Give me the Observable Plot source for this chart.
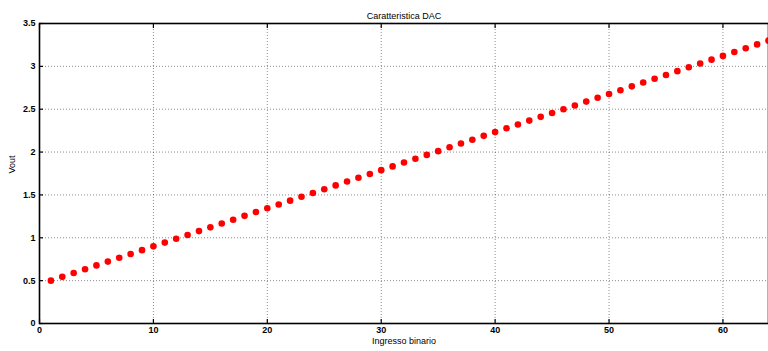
<!DOCTYPE html>
<html><head><meta charset="utf-8">
<script src="https://cdn.jsdelivr.net/npm/d3@7"></script>
<script src="https://cdn.jsdelivr.net/npm/@observablehq/plot@0.6"></script>
<style>body{margin:0;background:#fff;overflow:hidden}</style>
</head><body><div id="chart"></div>
<script>
const title = "Caratteristica DAC";
const xLabel = "Ingresso binario";
const yLabel = "Vout";
const codes = [1,2,3,4,5,6,7,8,9,10,11,12,13,14,15,16,17,18,19,20,21,22,23,24,25,26,27,28,29,30,31,32,33,34,35,36,37,38,39,40,41,42,43,44,45,46,47,48,49,50,51,52,53,54,55,56,57,58,59,60,61,62,63,64];
const vout = [0.500,0.544,0.589,0.633,0.678,0.722,0.767,0.811,0.856,0.900,
  0.944,0.989,1.033,1.078,1.122,1.167,1.211,1.256,1.300,1.344,
  1.389,1.433,1.478,1.522,1.567,1.611,1.656,1.700,1.744,1.789,
  1.833,1.878,1.922,1.967,2.011,2.056,2.100,2.144,2.189,2.233,
  2.278,2.322,2.367,2.411,2.456,2.500,2.544,2.589,2.633,2.678,
  2.722,2.767,2.811,2.856,2.900,2.944,2.989,3.033,3.078,3.122,
  3.167,3.211,3.256,3.300];
const xTicks = [0,10,20,30,40,50,60];
const yTicks = [0,0.5,1,1.5,2,2.5,3,3.5];
const yTickLabels = ["0","0.5","1","1.5","2","2.5","3","3.5"];

const data = codes.map((c,i)=>({x:c, y:vout[i]}));

const chart = Plot.plot({
  width: 768, height: 351,
  marginLeft: 39, marginRight: 0, marginTop: 23, marginBottom: 28,
  style: {fontFamily: "'Liberation Sans', Arial, sans-serif", fontSize: "9px", background: "#fff", color: "#000"},
  x: {domain: [0,64]},
  y: {domain: [0,3.5]},
  marks: [
    Plot.gridX(xTicks, {stroke: "#000", strokeOpacity: 0.45, strokeDasharray: "1,2"}),
    Plot.gridY(yTicks, {stroke: "#000", strokeOpacity: 0.45, strokeDasharray: "1,2"}),
    Plot.axisX(xTicks, {anchor: "bottom", tickSize: 0, tickPadding: 3, fontWeight: "bold", label: null}),
    Plot.axisY(yTicks, {anchor: "left", tickSize: 0, tickPadding: 4, fontWeight: "bold", label: null, tickFormat: (d)=>yTickLabels[yTicks.indexOf(d)]}),
    Plot.axisX(xTicks, {anchor: "bottom", tickSize: -4, text: null, label: null, strokeWidth: 1.2}),
    Plot.axisX(xTicks, {anchor: "top", tickSize: -4, text: null, label: null, strokeWidth: 1.2}),
    Plot.axisY(yTicks, {anchor: "left", tickSize: -4, text: null, label: null, strokeWidth: 1.2}),
    Plot.frame({stroke: "#000", strokeWidth: 1.6}),
    Plot.dot(data, {x: "x", y: "y", r: 3.3, fill: "#ff0000", stroke: "none"}),
    Plot.text([title], {frameAnchor: "top", dy: -11, fontSize: 9}),
    Plot.text([xLabel], {frameAnchor: "bottom", dy: 20, fontSize: 9}),
    Plot.text([yLabel], {frameAnchor: "left", dx: -27, rotate: -90, fontSize: 9})
  ]
});
document.getElementById("chart").appendChild(chart);
</script>
</body></html>
